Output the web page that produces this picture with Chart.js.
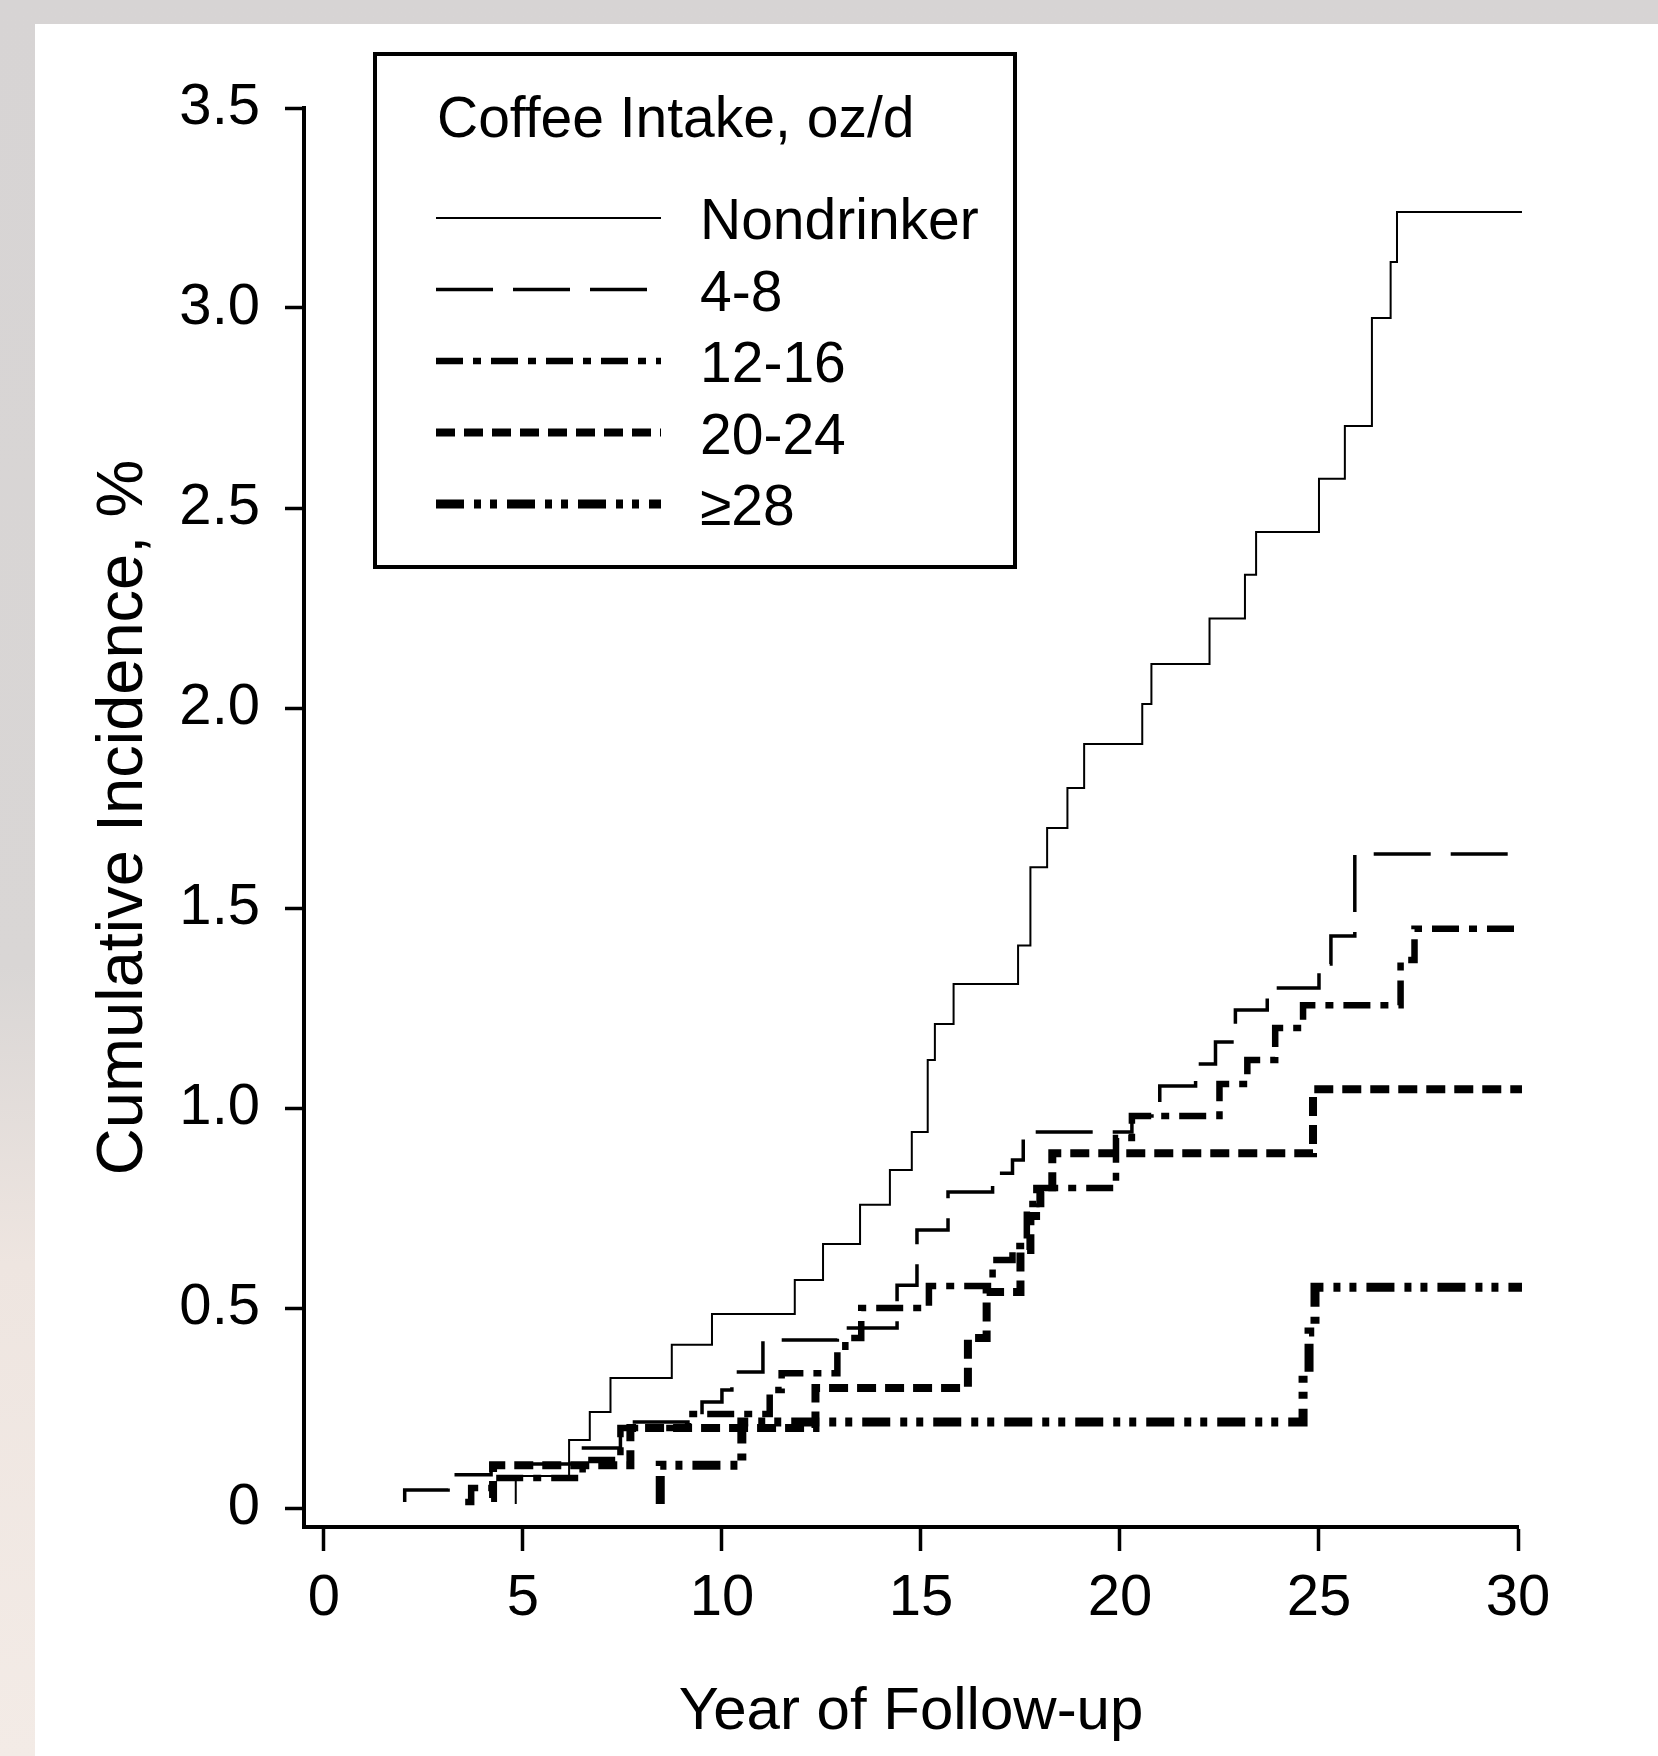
<!DOCTYPE html>
<html>
<head>
<meta charset="utf-8">
<title>Cumulative incidence by coffee intake</title>
<script src="https://cdn.jsdelivr.net/npm/chart.js@4.4.1/dist/chart.umd.min.js"></script>
<style>
	html, body { margin: 0; padding: 0; }
	body {
		width: 1658px;
		height: 1756px;
		overflow: hidden;
		position: relative;
		background: linear-gradient(to bottom, #d7d4d4 0%, #d9d6d5 55%, #eee5e0 72%, #f3ebe6 100%);
	}
	#wrap {
		position: absolute;
		left: 35px;
		top: 24px;
		width: 1623px;
		height: 1732px;
		background: #fff;
	}
</style>
</head>
<body>
<div id="wrap"><canvas id="km-chart" width="1623" height="1732"></canvas></div>
<script>
// valores (anos de seguimiento / incidencia acumulada %)
var seriesNames = ['Nondrinker', '4-8', '12-16', '20-24', '\u226528'];
var legendTitle = 'Coffee Intake, oz/d';

var nondrinkerYears = [4.82, 4.82, 6.16, 6.68, 7.2, 8.74, 9.75, 11.83, 12.54, 13.47, 14.22, 14.77, 15.17, 15.35, 15.82,
	17.44, 17.75, 18.17, 18.68, 19.1, 20.56, 20.79, 22.25, 23.14, 23.42, 25.0, 25.65, 26.33, 26.8, 26.96, 30.1];
var nondrinkerPct = [0.01, 0.08, 0.17, 0.24, 0.325, 0.408, 0.485, 0.57, 0.66, 0.758, 0.845, 0.94, 1.12, 1.21, 1.31,
	1.406, 1.602, 1.70, 1.80, 1.91, 2.01, 2.11, 2.224, 2.333, 2.44, 2.573, 2.705, 2.975, 3.115, 3.24, 3.24];

var oz4to8Years = [2.03, 2.03, 3.12, 4.2, 6.43, 7.45, 9.5, 10.0, 10.25, 11.03, 12.9, 14.4, 14.9, 15.68, 16.8, 17.3, 17.57,
	20.3, 21.0, 21.9, 22.4, 22.9, 23.7, 25.0, 25.3, 25.9, 30.1];
var oz4to8Pct = [0.015, 0.045, 0.083, 0.11, 0.15, 0.215, 0.265, 0.295, 0.34, 0.42, 0.45, 0.557, 0.695, 0.79, 0.837, 0.87, 0.94,
	0.98, 1.055, 1.11, 1.165, 1.245, 1.30, 1.36, 1.43, 1.635, 1.635];

var oz12to16Years = [3.55, 3.7, 4.25, 6.5, 7.45, 9.15, 11.2, 11.5, 12.9, 13.1, 13.5, 15.2, 16.8, 17.3, 17.66, 17.9,
	19.9, 20.3, 22.5, 23.2, 23.9, 24.6, 27.05, 27.4, 30.1];
var oz12to16Pct = [0.015, 0.05, 0.075, 0.12, 0.20, 0.235, 0.295, 0.337, 0.39, 0.425, 0.50, 0.555, 0.62, 0.655, 0.76, 0.80,
	0.925, 0.98, 1.06, 1.12, 1.20, 1.257, 1.37, 1.448, 1.448];

var oz20to24Years = [4.2, 4.25, 7.7, 12.35, 16.18, 16.65, 17.5, 17.75, 18.0, 18.3, 24.85, 30.1];
var oz20to24Pct = [0.025, 0.107, 0.20, 0.30, 0.425, 0.54, 0.645, 0.73, 0.79, 0.887, 1.047, 1.047];

var oz28Years = [8.45, 8.45, 10.5, 24.6, 24.75, 24.9, 30.1];
var oz28Pct = [0.01, 0.107, 0.215, 0.34, 0.44, 0.552, 0.552];

var xTicks = [0, 5, 10, 15, 20, 25, 30];
var yTicks = [0, 0.5, 1, 1.5, 2, 2.5, 3, 3.5];
var yTickLabels = ['0', '0.5', '1.0', '1.5', '2.0', '2.5', '3.0', '3.5'];

var fuente = '"Liberation Sans", Arial, Helvetica, sans-serif';

var puntos = function (xs, ys) {
	let out = [];
	for (let i = 0; i < xs.length; i++) {
		out.push({ x: xs[i], y: ys[i] });
	}
	return out;
};

var linea = function (label, xs, ys, width, dash) {
	return {
		label: label,
		data: puntos(xs, ys),
		borderColor: '#000',
		borderWidth: width,
		borderDash: dash,
		borderCapStyle: 'butt',
		borderJoinStyle: 'miter',
		stepped: 'before',
		pointRadius: 0,
		fill: false,
		clip: false
	};
};

var kmData = {
	datasets: [
		linea(seriesNames[0], nondrinkerYears, nondrinkerPct, 2, []),
		linea(seriesNames[1], oz4to8Years, oz4to8Pct, 3.5, [57, 20]),
		linea(seriesNames[2], oz12to16Years, oz12to16Pct, 6.5, [27, 10, 8, 10]),
		linea(seriesNames[3], oz20to24Years, oz20to24Pct, 8, [19, 9]),
		linea(seriesNames[4], oz28Years, oz28Pct, 9, [28, 10, 7, 9, 7, 10])
	]
};

// cuadro de leyenda dibujado a mano, como en la figura original
var legendBox = {
	id: 'legendBox',
	afterDraw: function (chart) {
		let ctx = chart.ctx;
		ctx.save();
		ctx.setLineDash([]);
		ctx.lineWidth = 4;
		ctx.strokeStyle = '#000';
		ctx.strokeRect(340, 30, 640, 513);

		ctx.fillStyle = '#000';
		ctx.font = '57px ' + fuente;
		ctx.textAlign = 'left';
		ctx.textBaseline = 'alphabetic';
		ctx.fillText(legendTitle, 402, 113);

		chart.data.datasets.forEach(function (ds, i) {
			let y = 194 + i * 71.5;
			ctx.beginPath();
			ctx.lineWidth = ds.borderWidth;
			ctx.setLineDash(ds.borderDash);
			ctx.lineCap = 'butt';
			ctx.moveTo(401, y);
			ctx.lineTo(626, y);
			ctx.stroke();
			ctx.setLineDash([]);
			ctx.fillText(ds.label, 665, y + 21);
		});
		ctx.restore();
	}
};

function makeChart() {
	console.log('Making Chart');
	let ctx = document.getElementById('km-chart').getContext('2d');
	let chart = new Chart(ctx, {
		type: 'line',
		data: kmData,
		plugins: [legendBox],
		options: {
			responsive: false,
			animation: false,
			devicePixelRatio: 1,
			layout: { padding: { top: 84, right: 140, left: 0, bottom: 0 } },
			plugins: {
				legend: { display: false },
				tooltip: { enabled: false }
			},
			scales: {
				x: {
					type: 'linear',
					min: -0.5,
					max: 30,
					afterFit: function (s) { s.height = 229; },
					afterBuildTicks: function (s) { s.ticks = xTicks.map(v => ({ value: v })); },
					border: { display: true, width: 4, color: '#000' },
					grid: { display: true, drawOnChartArea: false, drawTicks: true, tickLength: 24, tickWidth: 3.5, tickColor: '#000' },
					ticks: {
						color: '#000',
						padding: 13,
						maxRotation: 0,
						autoSkip: false,
						font: { family: fuente, size: 58 },
						callback: function (v) { return String(v); }
					},
					title: {
						display: true,
						text: 'Year of Follow-up',
						color: '#000',
						font: { family: fuente, size: 60 },
						padding: { top: 0, bottom: 8 }
					}
				},
				y: {
					type: 'linear',
					min: -0.0475,
					max: 3.5,
					afterFit: function (s) { s.width = 269; },
					afterBuildTicks: function (s) { s.ticks = yTicks.map(v => ({ value: v })); },
					border: { display: true, width: 4, color: '#000' },
					grid: { display: true, drawOnChartArea: false, drawTicks: true, tickLength: 19, tickWidth: 3.5, tickColor: '#000' },
					ticks: {
						color: '#000',
						padding: 25,
						autoSkip: false,
						font: { family: fuente, size: 58 },
						callback: function (v) {
							let i = yTicks.indexOf(v);
							return i >= 0 ? yTickLabels[i] : '';
						}
					},
					title: {
						display: true,
						text: 'Cumulative Incidence, %',
						color: '#000',
						font: { family: fuente, size: 65 },
						padding: { top: 50, bottom: 0 }
					}
				}
			}
		}
	});
}

makeChart();
</script>
</body>
</html>
